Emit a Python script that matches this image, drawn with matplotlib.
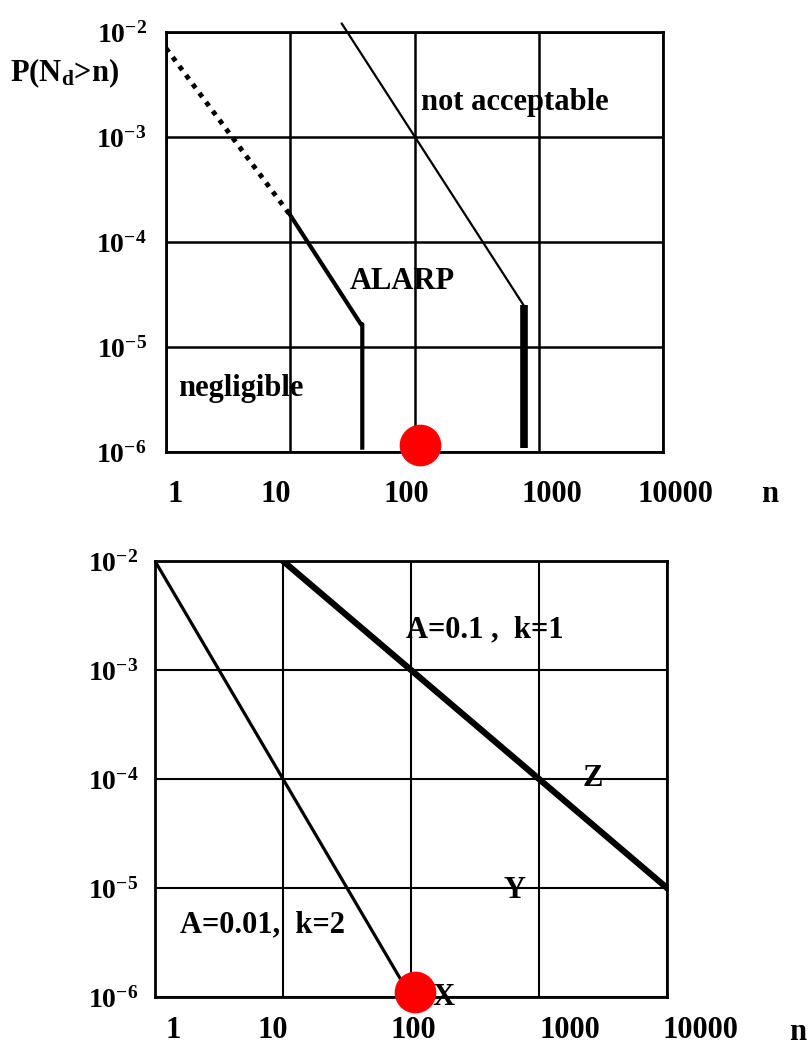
import matplotlib
matplotlib.use('Agg')
import matplotlib.pyplot as plt
from matplotlib.transforms import ScaledTranslation

plt.rcParams['font.family'] = ['Liberation Serif', 'DejaVu Serif']
plt.rcParams['font.weight'] = 'bold'
plt.rcParams['mathtext.fontset'] = 'custom'
plt.rcParams['mathtext.rm'] = 'Liberation Serif:bold'
plt.rcParams['mathtext.it'] = 'Liberation Serif:bold'
plt.rcParams['mathtext.bf'] = 'Liberation Serif:bold'
plt.rcParams['mathtext.default'] = 'rm'

# axis ticks
n_ticks = [1, 10, 100, 1000, 10000]
n_labels = ['1', '10', '100', '1000', '10000']
p_ticks = [1e-6, 1e-5, 1e-4, 1e-3, 1e-2]
p_labels = [r'$10^{-6}$', r'$10^{-5}$', r'$10^{-4}$', r'$10^{-3}$', r'$10^{-2}$']

# upper panel: acceptance boundaries
dotted_n = [1, 10]
dotted_p = [7e-3, 1.8e-4]
alarp_low_n = [10, 37, 38, 38]
alarp_low_p = [1.8e-4, 1.65e-5, 1.65e-5, 1.1e-6]
alarp_high_n = [26, 755]
alarp_high_p = [1.2e-2, 2.5e-5]
cutoff_n = [755, 755]
cutoff_p = [2.5e-5, 1.1e-6]
dot_top_n = [111]
dot_top_p = [1.17e-6]

# lower panel: P = A * n^-k
curve_k2_n = [1, 100]
curve_k2_p = [1e-2, 1e-6]
curve_k1_n = [10, 10000]
curve_k1_p = [1e-2, 1e-5]
dot_bot_n = [107]
dot_bot_p = [1.1e-6]

fig = plt.figure(figsize=(8.11, 10.48), dpi=100)
ax1 = fig.add_axes([0.2047, 0.5687, 0.6128, 0.4008])
ax2 = fig.add_axes([0.1911, 0.0487, 0.6313, 0.4160])


def setup(ax, grid_lw, xpad, ypad, yfs, xoffs):
    ax.set_xscale('log')
    ax.set_yscale('log')
    ax.set_xlim(1, 1e4)
    ax.set_ylim(1e-6, 1e-2)
    ax.set_xticks(n_ticks)
    ax.set_xticklabels(n_labels)
    ax.set_yticks(p_ticks)
    ax.set_yticklabels(p_labels)
    ax.minorticks_off()
    ax.tick_params(length=0)
    ax.tick_params(axis='x', labelsize=22, pad=xpad)
    ax.tick_params(axis='y', labelsize=yfs, pad=ypad)
    ax.grid(True, color='black', lw=grid_lw)
    ax.set_axisbelow(True)
    for s in ax.spines.values():
        s.set_linewidth(2)
    # labels in the scan sit a little off the grid lines
    for lbl, dx in zip(ax.get_xticklabels(), xoffs):
        lbl.set_transform(lbl.get_transform() + ScaledTranslation(dx / 100, 0, fig.dpi_scale_trans))


setup(ax1, 1.8, 20, 14, 20, [9, -15, -8, 13, 12])
setup(ax2, 1.5, 14, 12, 20, [18, -10, 2, 31, 33])

# upper panel
ax1.plot(dotted_n, dotted_p, color='black', lw=3.5, linestyle=(0, (1, 1.3)))
ax1.plot(alarp_low_n, alarp_low_p, color='black', lw=3)
ax1.plot(alarp_high_n, alarp_high_p, color='black', lw=1.6, clip_on=False)
ax1.plot(cutoff_n, cutoff_p, color='black', lw=5.5, solid_capstyle='butt')
ax1.plot(dot_top_n, dot_top_p, 'o', color='red', ms=29, clip_on=False, zorder=5)

ax1.text(0.702, 0.833, 'not acceptable', transform=ax1.transAxes, fontsize=22,
         ha='center', va='center')
ax1.text(0.475, 0.405, 'ALARP', transform=ax1.transAxes, fontsize=22,
         ha='center', va='center')
ax1.text(0.151, 0.152, 'negligible', transform=ax1.transAxes, fontsize=22,
         ha='center', va='center')

fig.text(10 / 811, 1 - 73 / 1048, r'P(N$_{d}$>n)', fontsize=22, ha='left', va='center')
fig.text(770 / 811, 1 - 494 / 1048, 'n', fontsize=22, ha='center', va='center')

# lower panel
ax2.plot(curve_k2_n, curve_k2_p, color='black', lw=2.3)
ax2.plot(curve_k1_n, curve_k1_p, color='black', lw=4.5)
ax2.plot(dot_bot_n, dot_bot_p, 'o', color='red', ms=29, clip_on=False, zorder=5)

ax2.text(0.645, 0.842, 'A=0.1 ,  k=1', transform=ax2.transAxes, fontsize=22,
         ha='center', va='center')
ax2.text(0.209, 0.165, 'A=0.01,  k=2', transform=ax2.transAxes, fontsize=22,
         ha='center', va='center')
ax2.text(0.854, 0.502, 'Z', transform=ax2.transAxes, fontsize=22, ha='center', va='center')
ax2.text(0.703, 0.245, 'Y', transform=ax2.transAxes, fontsize=22, ha='center', va='center')
ax2.text(0.5625, -0.002, 'X', transform=ax2.transAxes, fontsize=22, ha='center',
         va='center', clip_on=False)

fig.text(806 / 811, 1 - 1032 / 1048, 'n', fontsize=22, ha='right', va='center')

fig.savefig('out.png', dpi=100)
